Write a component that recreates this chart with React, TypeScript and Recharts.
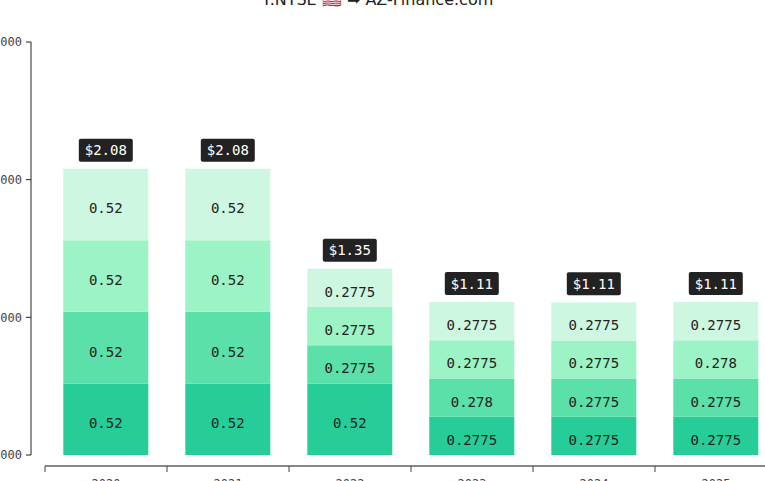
import React from "react";
import { BarChart, Bar, XAxis, YAxis, LabelList } from "recharts";

const YEARS = ["2020", "2021", "2022", "2023", "2024", "2025"];
const Q1 = [0.52, 0.52, 0.52, 0.2775, 0.2775, 0.2775];
const Q2 = [0.52, 0.52, 0.2775, 0.278, 0.2775, 0.2775];
const Q3 = [0.52, 0.52, 0.2775, 0.2775, 0.2775, 0.278];
const Q4 = [0.52, 0.52, 0.2775, 0.2775, 0.2775, 0.2775];
const TOTAL_LABELS = ["$2.08", "$2.08", "$1.35", "$1.11", "$1.11", "$1.11"];
const Y_TICKS = [0, 1, 2, 3];
const Y_TICK_LABELS = ["0.000", "1.000", "2.000", "3.000"];

const COLORS = ["#26cd98", "#5ae0a8", "#9cf3c5", "#cef7e2"];
const MONO = "DejaVu Sans Mono, monospace";

const data = YEARS.map((year, i) => ({
  year,
  q1: Q1[i],
  q2: Q2[i],
  q3: Q3[i],
  q4: Q4[i],
  total: TOTAL_LABELS[i],
}));

function TotalTag(props: any) {
  const { x, y, width, value } = props;
  const cx = x + width / 2;
  const w = String(value).length * 8.4 + 12;
  return (
    <g>
      <rect x={cx - w / 2} y={y - 30} width={w} height={23} rx={2} fill="#222" />
      <text x={cx} y={y - 18.5} textAnchor="middle" dominantBaseline="central"
        fill="#fff" fontSize={14} fontFamily={MONO}>{value}</text>
    </g>
  );
}

// offset axis: line 11px below the plot, ticks on band edges
function XTick(props: any) {
  const { x, y, payload } = props;
  const half = payload.offset ?? 61;
  const ly = y + 11;
  return (
    <g>
      <line x1={x - half} x2={x + half} y1={ly} y2={ly} stroke="#888" strokeWidth={2} />
      <line x1={x - half} x2={x - half} y1={ly} y2={ly + 6} stroke="#444" strokeWidth={1} />
      <text x={x} y={ly + 13} dy="0.71em" textAnchor="middle" fill="#444"
        fontSize={12} fontFamily={MONO}>{payload.value}</text>
    </g>
  );
}

const segLabel = { fontSize: 14, fontFamily: MONO, fill: "#222" };

export default function App() {
  const keys = ["q1", "q2", "q3", "q4"];
  return (
    <div style={{ position: "fixed", left: 0, top: 0, width: 765, height: 481, overflow: "hidden", background: "#fff" }}>
      <style>{`
        .recharts-yAxis { transform: translateX(-14px); }
      `}</style>
      <div style={{
        position: "absolute", left: 0, top: -10, width: 755, textAlign: "center",
        fontFamily: "DejaVu Sans, sans-serif", fontSize: 16, lineHeight: "20px", color: "#222",
      }}>
        T.NYSE 🇺🇸 ➡ AZ-Finance.com
      </div>
      <div style={{ position: "absolute", left: -15, top: 0 }}>
        <BarChart width={792} height={495} data={data}
          margin={{ top: 42, right: 0, left: 0, bottom: 0 }} barCategoryGap="15%">
          <XAxis dataKey="year" height={40} axisLine={false} tickLine={false}
            tickSize={0} tickMargin={0} tick={<XTick />} interval={0} />
          <YAxis width={60} domain={[0, 3]} ticks={Y_TICKS} stroke="#222"
            tickSize={5} tickMargin={4}
            tickFormatter={(v: number) => Y_TICK_LABELS[Y_TICKS.indexOf(v)]}
            tick={{ fontSize: 12, fontFamily: MONO, fill: "#444", dx: -14 }} />
          {keys.map((k, i) => (
            <Bar key={k} dataKey={k} stackId="a" fill={COLORS[i]} isAnimationActive={false}>
              <LabelList dataKey={k} position="center" style={segLabel} dy={4}
                formatter={(v: any) => String(v)} />
              {i === 3 && <LabelList dataKey="total" content={<TotalTag />} />}
            </Bar>
          ))}
        </BarChart>
      </div>
    </div>
  );
}
